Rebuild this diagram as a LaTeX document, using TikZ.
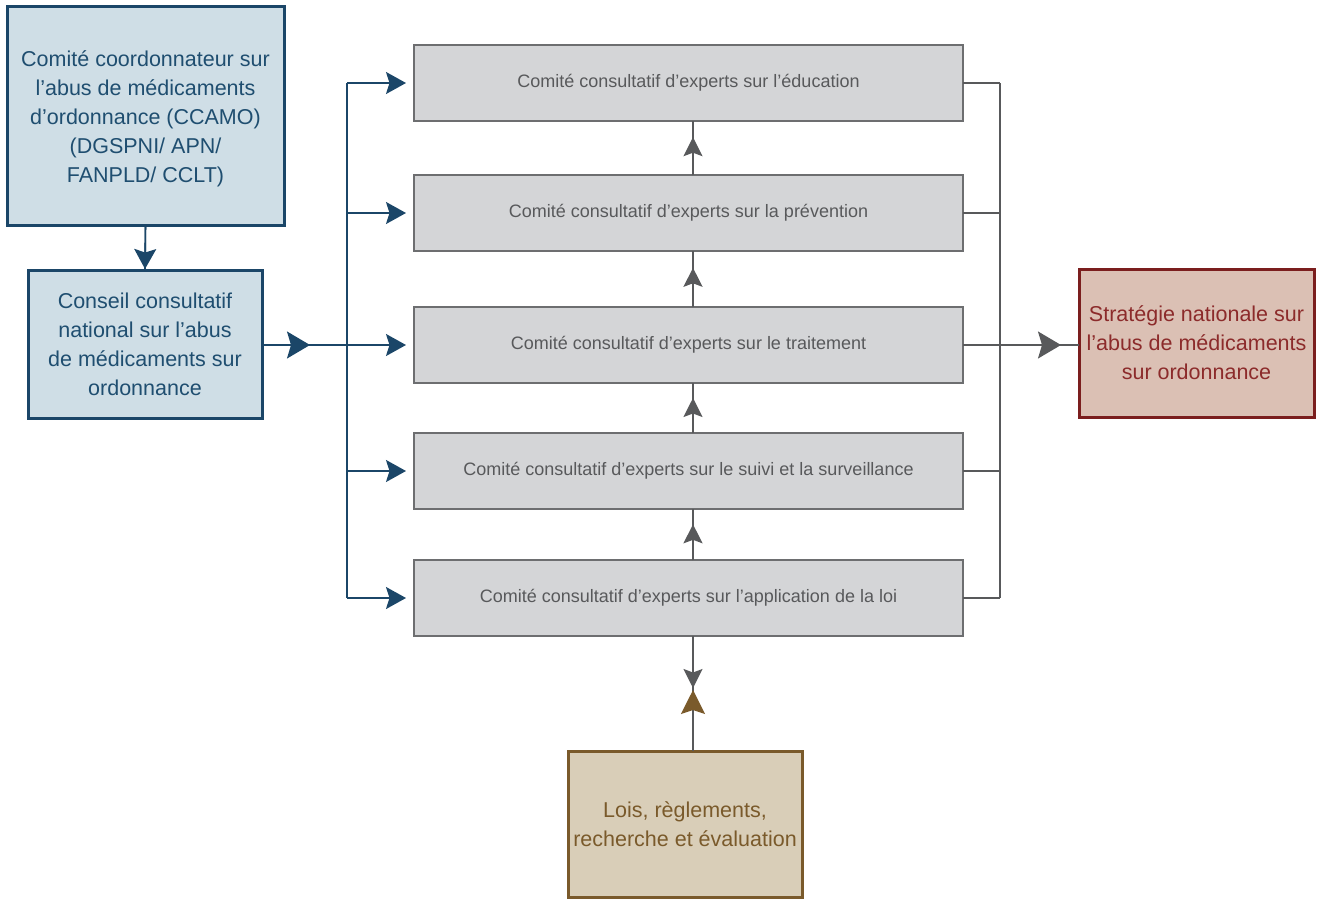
\documentclass[tikz,border=0pt]{standalone}
\usepackage{fontspec}
\setmainfont{Liberation Sans}
\usetikzlibrary{arrows.meta,calc}
\definecolor{bluedark}{HTML}{1B4668}
\definecolor{bluefill}{HTML}{CFDEE6}
\definecolor{bluetext}{HTML}{1F4E70}
\definecolor{grayfill}{HTML}{D4D5D7}
\definecolor{grayline}{HTML}{6D6E70}
\definecolor{graytext}{HTML}{58595B}
\definecolor{redfill}{HTML}{DBC0B4}
\definecolor{redline}{HTML}{7B1E1E}
\definecolor{redtext}{HTML}{8C2B2B}
\definecolor{brownfill}{HTML}{D9CEB8}
\definecolor{brownline}{HTML}{7A5A2B}
\tikzset{
  bigbox/.style={draw, line width=3pt, align=center, outer sep=0pt, inner sep=0pt,
    font=\fontsize{21.5}{29}\selectfont},
  bluebox/.style={bigbox, draw=bluedark, fill=bluefill, text=bluetext},
  redbox/.style={bigbox, draw=redline, fill=redfill, text=redtext},
  brownbox/.style={bigbox, draw=brownline, fill=brownfill, text=brownline},
  graybox/.style={draw=grayline, fill=grayfill, text=graytext, line width=2pt,
    minimum width=549pt, minimum height=76pt, outer sep=0pt,
    font=\fontsize{18}{22}\selectfont},
  blueln/.style={draw=bluedark, line width=1.6pt},
  grayln/.style={draw=graytext, line width=1.6pt},
  bluearrbig/.style={blueln, -{Stealth[inset=4pt,length=23pt,width=27pt]}},
  bluearr/.style={blueln, -{Stealth[inset=3.5pt,length=20pt,width=22pt]}},
  grayarr/.style={grayln, -{Stealth[inset=3.5pt,length=19pt,width=19pt]}},
  grayarrbig/.style={grayln, -{Stealth[inset=4pt,length=23pt,width=27pt]}},
  brownarr/.style={grayln, -{Stealth[inset=4pt,length=24pt,width=24pt,color=brownline,fill=brownline]}},
}
\begin{document}
\begin{tikzpicture}[x=1pt,y=-1pt]
\useasboundingbox (0,0) rectangle (1325,899);

% left boxes
\node[bluebox, minimum width=277pt, minimum height=218pt] (ccamo) at (145.5,116)
  {\rule{0pt}{22pt}Comité coordonnateur sur\\l’abus de médicaments\\d’ordonnance (CCAMO)\\(DGSPNI/ APN/\\FANPLD/ CCLT)};
\node[bluebox, minimum width=234pt, minimum height=148pt] (conseil) at (145,344)
  {Conseil consultatif\\national sur l’abus\\de médicaments sur\\ordonnance};

% gray boxes
\node[graybox] (edu) at (688.5,83) {Comité consultatif d’experts sur l’éducation};
\node[graybox] (prev) at (688.5,213) {Comité consultatif d’experts sur la prévention};
\node[graybox] (trait) at (688.5,345) {Comité consultatif d’experts sur le traitement};
\node[graybox] (suivi) at (688.5,471) {Comité consultatif d’experts sur le suivi et la surveillance};
\node[graybox] (loi) at (688.5,598) {Comité consultatif d’experts sur l’application de la loi};

% right and bottom boxes
\node[redbox, minimum width=235pt, minimum height=148pt] (strat) at (1196.5,343)
  {Stratégie nationale sur\\l’abus de médicaments\\sur ordonnance};
\node[brownbox, minimum width=234pt, minimum height=146pt] (lois) at (685,824)
  {Lois, règlements,\\recherche et évaluation};

% coordinates
\coordinate (bT) at (347,83);
\coordinate (b2) at (347,213);
\coordinate (bM) at (347,345);
\coordinate (b4) at (347,471);
\coordinate (bB) at (347,598);
\coordinate (cTip) at (310,345);
\coordinate (rT) at (1000,83);
\coordinate (r2) at (1000,213);
\coordinate (rM) at (1000,345);
\coordinate (r4) at (1000,471);
\coordinate (rB) at (1000,598);
\coordinate (sTip) at (1061,345);
\coordinate (vx) at (693,0);
\coordinate (dTip) at (693,688);
\coordinate (uTip) at (693,690);

% ccamo -> conseil
\draw[blueln] (ccamo.south) -- (conseil.north);
\draw[bluearr] (ccamo.south) -- ($(conseil.north)+(0,-1)$);

% conseil -> bus
\draw[blueln] (conseil.east |- bM) -- (bM);
\draw[bluearrbig] (conseil.east |- bM) -- (cTip);
\draw[blueln] (bT) -- (bB);
\foreach \c/\n in {bT/edu,b2/prev,bM/trait,b4/suivi,bB/loi}
  \draw[bluearr, shorten >=8pt] (\c) -- (\n.west);

% upward arrows between gray boxes
\foreach \lo/\up in {prev/edu,trait/prev,suivi/trait,loi/suivi}{
  \draw[grayln] (\lo.north -| vx) -- (\up.south -| vx);
  \draw[grayarr] (\lo.north -| vx) -- ($(\lo.north -| vx)!0.7!(\up.south -| vx)$);
}

% right bus
\foreach \n/\c in {edu/rT,prev/r2,trait/rM,suivi/r4,loi/rB}
  \draw[grayln] (\n.east) -- (\c);
\draw[grayln] (rT) -- (rB);
\draw[grayln] (rM) -- (strat.west |- rM);
\draw[grayarrbig] (rM) -- (sTip);

% bottom
\draw[grayln] (loi.south -| vx) -- (lois.north -| vx);
\draw[grayarr] (loi.south -| vx) -- (dTip);
\draw[brownarr] (lois.north -| vx) -- (uTip);
\end{tikzpicture}
\end{document}
